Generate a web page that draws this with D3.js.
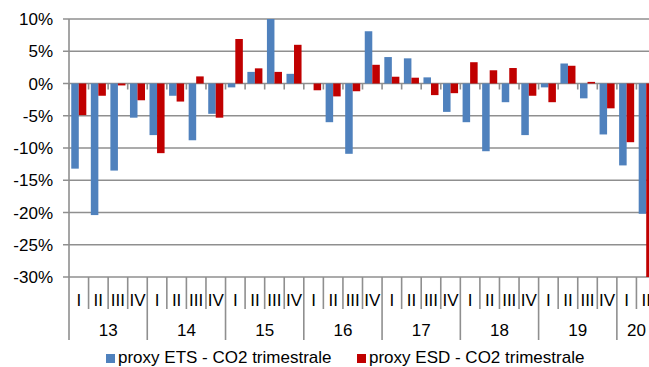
<!DOCTYPE html>
<html><head><meta charset="utf-8">
<script src="https://cdn.jsdelivr.net/npm/d3@7"></script>
<style>
html,body{margin:0;padding:0;background:#fff;overflow:hidden}
svg{display:block}
text{font-family:"Liberation Sans",Arial,sans-serif;fill:#000}
</style></head><body>
<div id="chart"></div>
<script>
const years = ["13","14","15","16","17","18","19","20"];
const quarters = ["I","II","III","IV"];
const yTicks = [10,5,0,-5,-10,-15,-20,-25,-30];
const seriesNames = ["proxy ETS - CO2 trimestrale","proxy ESD - CO2 trimestrale"];
const ets = [-13.2,-20.4,-13.5,-5.3, -8.0,-1.9,-8.8,-4.7, -0.6,1.8,10.0,1.5, 0,-6.0,-10.9,8.1,
             4.1,3.9,0.95,-4.4, -6.0,-10.5,-2.9,-8.0, -0.6,3.1,-2.3,-7.9, -12.7,-20.2];
const esd = [-4.9,-1.9,-0.3,-2.6, -10.8,-2.8,1.1,-5.3, 6.9,2.35,1.8,6.0, -1.05,-2.0,-1.2,2.9,
             1.05,0.9,-1.8,-1.5, 3.3,2.05,2.4,-1.9, -2.9,2.75,0.25,-3.85, -9.1,-30];
const colors = ["#4F81BD","#C00000"];

const cats = [];
years.forEach(y => quarters.forEach(q => cats.push({year:y, q:q, key:y+"-"+q})));
const n = ets.length; // 30 categories (through 20-II)
const catList = cats.slice(0, n);

const W = 649, H = 367;
const L = 69, R = 656, T = 19, B = 277;
const FS = 17;
const svg = d3.select("#chart").append("svg").attr("width", W).attr("height", H);

const x = d3.scaleBand().domain(catList.map(d => d.key)).range([L, R]).padding(0);
const y = d3.scaleLinear().domain([-30, 10]).range([B, T]);
const bw = x.bandwidth();
const barW = bw / 2.6;
const x1 = d3.scaleBand().domain([0,1]).range([(bw - 2*barW)/2, (bw - 2*barW)/2 + 2*barW]).padding(0);

const grid = "#8f8f8f";
// gridlines + outside ticks
svg.append("g").selectAll("line").data(yTicks).join("line")
  .attr("x1", L - 6).attr("x2", R)
  .attr("y1", d => y(d)).attr("y2", d => y(d))
  .attr("stroke", grid).attr("stroke-width", 1.6);

// y labels
svg.append("g").selectAll("text").data(yTicks).join("text")
  .attr("x", 53).attr("y", d => y(d) + 6)
  .attr("text-anchor", "end").attr("font-size", FS)
  .text(d => d + "%");

// ticks at zero axis
const bounds = d3.range(n + 1).map(i => L + i * bw);
svg.append("g").selectAll("line").data(bounds).join("line")
  .attr("x1", d => d).attr("x2", d => d)
  .attr("y1", y(0)).attr("y2", y(0) + 6)
  .attr("stroke", grid).attr("stroke-width", 1.6);

// bars
svg.append("clipPath").attr("id", "plot").append("rect")
  .attr("x", L).attr("y", T - 1).attr("width", R - L).attr("height", B - T + 1);
const gBars = svg.append("g").attr("clip-path", "url(#plot)");
[ets, esd].forEach((vals, si) => {
  gBars.append("g").selectAll("rect").data(vals).join("rect")
    .attr("x", (d, i) => x(catList[i].key) + x1(si))
    .attr("width", barW)
    .attr("y", d => y(Math.max(0, d)))
    .attr("height", d => Math.abs(y(d) - y(0)))
    .attr("fill", colors[si]);
});

// y axis line
svg.append("line").attr("x1", L).attr("x2", L).attr("y1", T).attr("y2", B)
  .attr("stroke", grid).attr("stroke-width", 1.6);

// category axis: quarter separators & year separators
const gx = svg.append("g");
bounds.forEach((bx, i) => {
  const isYear = (i % 4 === 0) && i !== n;
  gx.append("line").attr("x1", bx).attr("x2", bx)
    .attr("y1", B).attr("y2", isYear ? 340 : 309)
    .attr("stroke", grid).attr("stroke-width", 1.6);
});
gx.selectAll("text.q").data(catList).join("text").attr("class", "q")
  .attr("x", d => x(d.key) + bw/2).attr("y", 306)
  .attr("text-anchor", "middle").attr("font-size", FS)
  .text(d => d.q);
const yearData = years.map((yr, i) => ({yr, start: L + i*4*bw, end: L + Math.min((i+1)*4, n)*bw}));
gx.selectAll("text.y").data(yearData).join("text").attr("class", "y")
  .attr("x", d => (d.start + d.end)/2).attr("y", 336)
  .attr("text-anchor", "middle").attr("font-size", FS)
  .text(d => d.yr);

// legend
const legX = [106, 357];
seriesNames.forEach((s, i) => {
  svg.append("rect").attr("x", legX[i]).attr("y", 354).attr("width", 9).attr("height", 9).attr("fill", colors[i]);
  svg.append("text").attr("x", legX[i] + 12).attr("y", 363).attr("font-size", FS).text(s);
});
</script>
</body></html>
